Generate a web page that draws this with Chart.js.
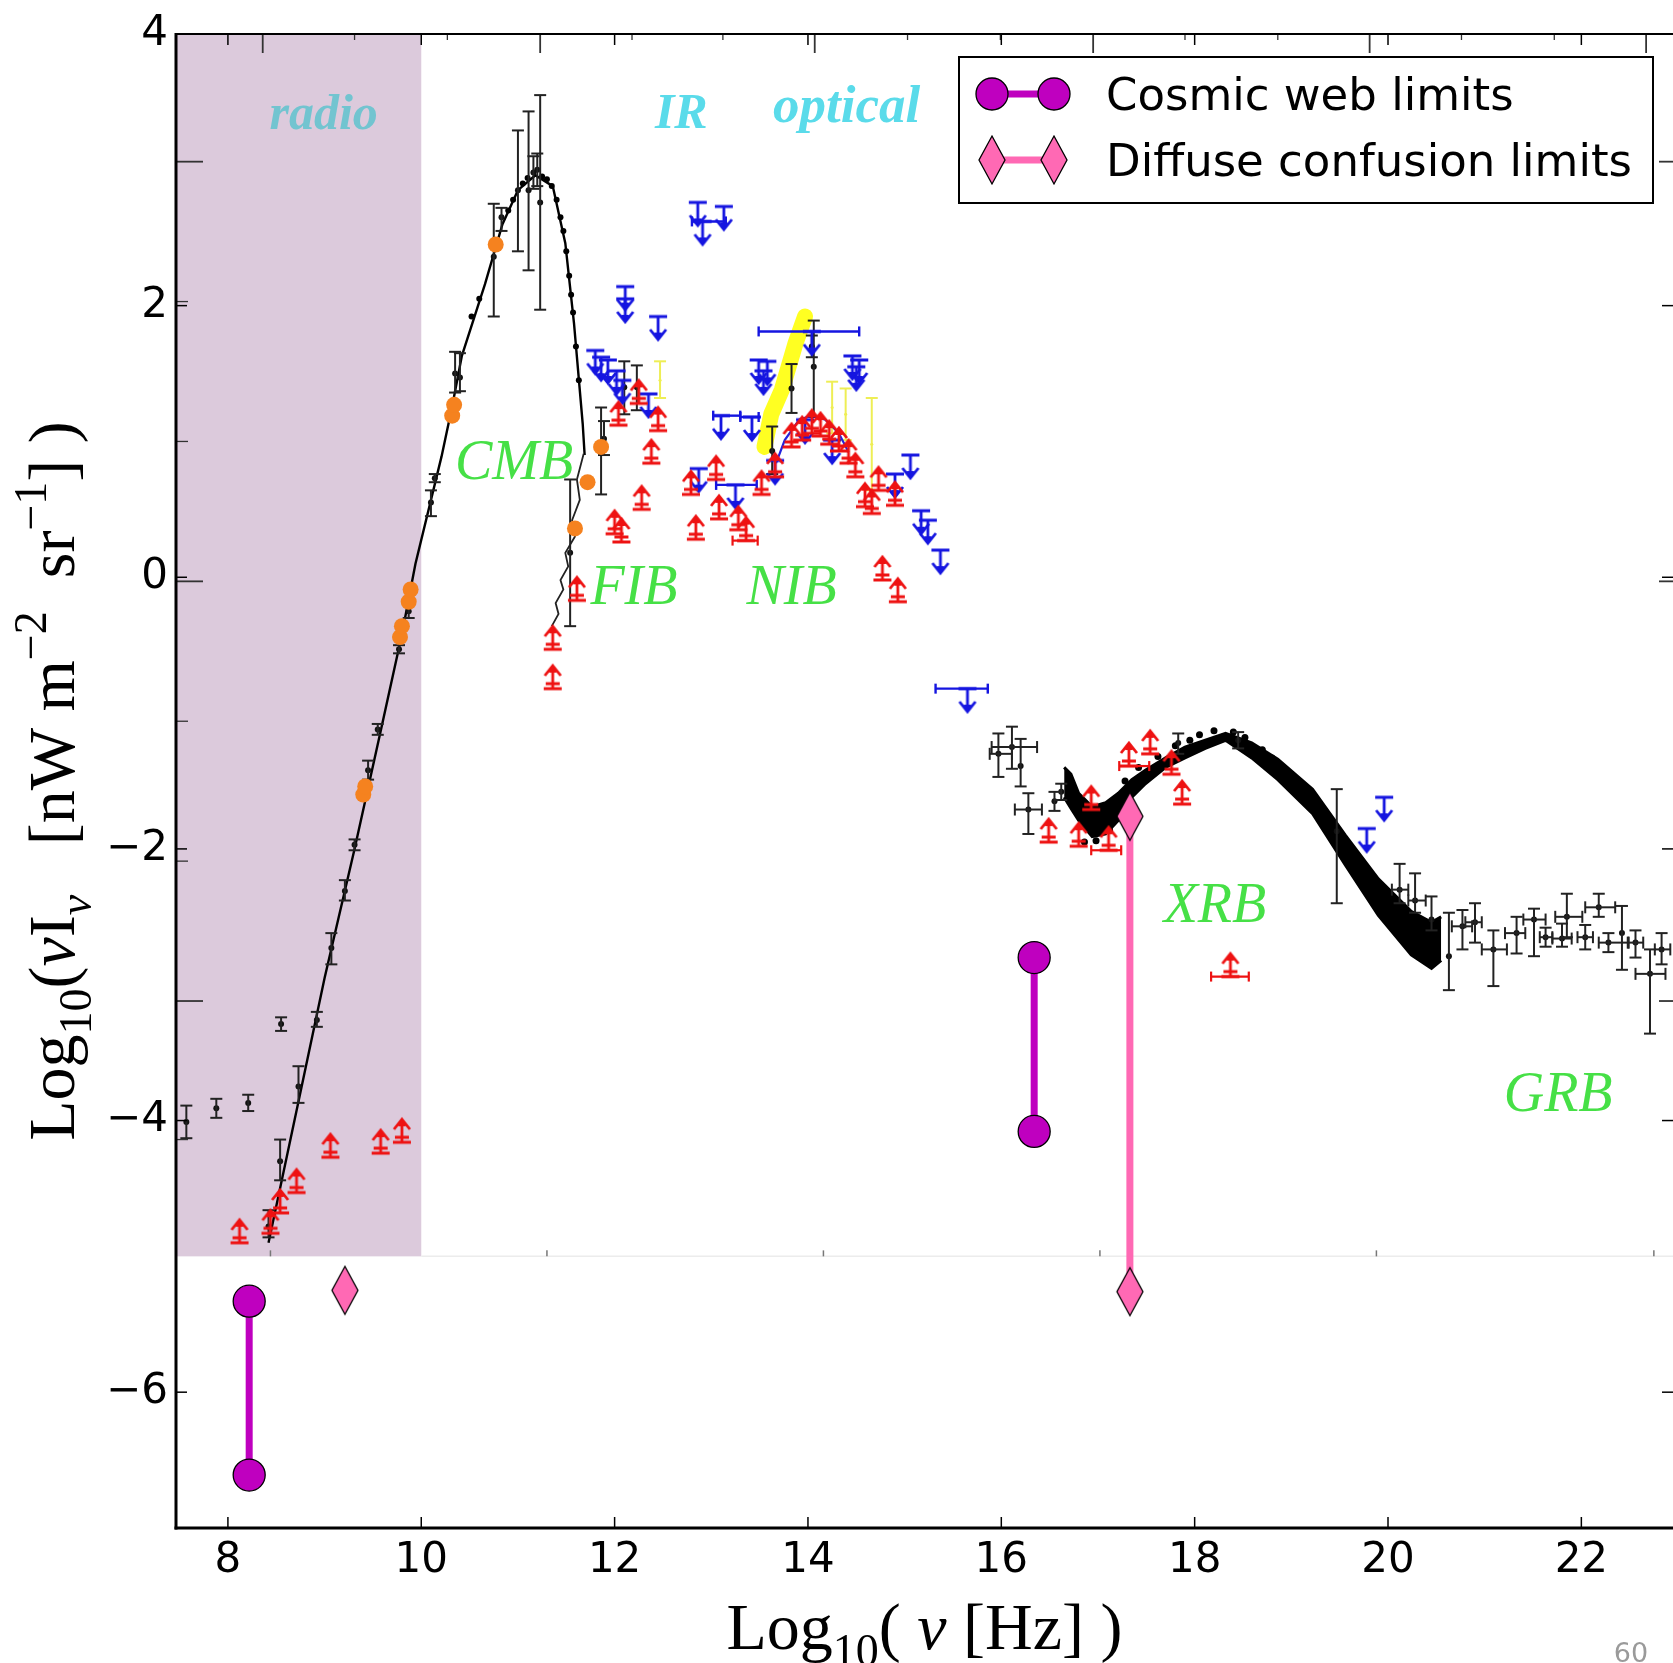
<!DOCTYPE html>
<html>
<head>
<meta charset="utf-8">
<title>Cosmic background spectrum with cosmic web and confusion limits</title>
<script src="https://cdn.jsdelivr.net/npm/chart.js@4.4.1/dist/chart.umd.min.js"></script>
<style>
  html, body { margin: 0; padding: 0; background: #ffffff; }
  canvas { display: block; }
</style>
</head>
<body>
<canvas id="spectrum" width="1673" height="1663"></canvas>
<script>
// ---- axis ranges and tick values (log10 frequency, log10 nu*I_nu) ----
const X_MIN = 7.463, X_MAX = 22.948, Y_MIN = -7, Y_MAX = 4;
const xTickValues = [8, 10, 12, 14, 16, 18, 20, 22];
const yTickValues = [-6, -4, -2, 0, 2, 4];

// ticks of the embedded spectrum panel
const innerTopMajor = [8.36, 11.23, 14.07, 16.95, 19.81, 22.67];
const innerTopMinor = [9.31, 10.27, 12.18, 13.12, 15.03, 15.99, 17.90, 18.86, 20.76, 21.72];
const innerSideMajor = [3.06, -0.03, -3.12];
const innerSideMinor = [2.03, 1.0, -1.06, -2.09, -4.14];
const innerBottomTicks = [8.44, 11.30, 14.16, 17.02, 19.88, 22.75];
const panelBottom = -5;

// radio band shading
const radioBandX = [X_MIN, 10];
const radioBandY = [-5, 4];

// ---- CMB ----
const cmbCurve = [
  {x:8.42,y:-4.90},{x:8.73,y:-3.86},{x:9.00,y:-2.95},{x:9.31,y:-2.00},{x:9.59,y:-1.10},
  {x:9.80,y:-0.42},{x:9.94,y:0.10},{x:10.21,y:0.89},{x:10.32,y:1.26},{x:10.42,y:1.63},
  {x:10.66,y:2.16},{x:10.84,y:2.60},{x:11.00,y:2.85},{x:11.18,y:2.96},{x:11.36,y:2.88},
  {x:11.49,y:2.46},{x:11.58,y:1.87},{x:11.67,y:1.13},{x:11.69,y:0.90}
];
const cmbDots = [
  {x:10.52,y:1.92},{x:10.60,y:2.05},{x:10.90,y:2.70},{x:10.95,y:2.78},{x:11.05,y:2.90},
  {x:11.10,y:2.94},{x:11.25,y:2.95},{x:11.30,y:2.93},{x:11.35,y:2.88},{x:11.40,y:2.78},
  {x:11.44,y:2.65},{x:11.47,y:2.55},{x:11.50,y:2.40},{x:11.53,y:2.22},{x:11.55,y:2.08},
  {x:11.57,y:1.95},{x:11.60,y:1.70},{x:11.63,y:1.45}
];
const firasJagged = [
  {x:11.68,y:0.91},{x:11.61,y:0.72},{x:11.64,y:0.57},{x:11.56,y:0.42},{x:11.59,y:0.30},
  {x:11.49,y:0.18},{x:11.52,y:0.08},{x:11.44,y:-0.02},{x:11.47,y:-0.09},{x:11.39,y:-0.19},
  {x:11.42,y:-0.27},{x:11.35,y:-0.36}
];
const cmbErr = [
  {x:7.57,y:-4.01,yl:-4.13,yh:-3.89},{x:7.88,y:-3.91,yl:-3.98,yh:-3.84},
  {x:8.21,y:-3.87,yl:-3.93,yh:-3.81},{x:8.55,y:-3.29,yl:-3.34,yh:-3.24},
  {x:8.42,y:-4.78,yl:-4.86,yh:-4.66},{x:8.54,y:-4.30,yl:-4.44,yh:-4.14},
  {x:8.73,y:-3.75,yl:-3.87,yh:-3.60},{x:8.92,y:-3.26,yl:-3.31,yh:-3.20},
  {x:9.07,y:-2.73,yl:-2.85,yh:-2.62},{x:9.21,y:-2.31,yl:-2.38,yh:-2.23},
  {x:9.31,y:-1.97,yl:-2.01,yh:-1.93},{x:9.45,y:-1.42,yl:-1.49,yh:-1.35},
  {x:9.55,y:-1.12,yl:-1.16,yh:-1.08},{x:9.77,y:-0.53,yl:-0.56,yh:-0.50},
  {x:9.87,y:-0.25,yl:-0.30,yh:-0.20},{x:10.10,y:0.55,yl:0.45,yh:0.64},
  {x:10.14,y:0.73,yl:0.70,yh:0.76},{x:10.35,y:1.50,yl:1.36,yh:1.66},
  {x:10.40,y:1.47,yl:1.37,yh:1.65},{x:10.75,y:2.36,yl:1.92,yh:2.75},
  {x:10.83,y:2.65,yl:2.55,yh:2.72},{x:11.00,y:2.85,yl:2.40,yh:3.29},
  {x:11.11,y:2.85,yl:2.26,yh:3.43},{x:11.23,y:2.76,yl:1.97,yh:3.55},
  {x:11.16,y:2.98,yl:2.86,yh:3.10},{x:11.20,y:3.00,yl:2.88,yh:3.12},
  {x:11.54,y:0.18,yl:-0.36,yh:0.72},{x:11.86,y:0.96,yl:0.61,yh:1.25},
  {x:11.89,y:1.02,yl:0.90,yh:1.15},{x:12.10,y:1.40,yl:1.20,yh:1.59},
  {x:12.23,y:1.40,yl:1.23,yh:1.56},{x:13.63,y:0.93,yl:0.76,yh:1.11},
  {x:13.83,y:1.39,yl:1.21,yh:1.57},{x:14.06,y:1.55,yl:1.18,yh:1.89},
  {x:14.04,y:1.70,yl:1.62,yh:1.78}
];
const orangePts = [
  {x:9.40,y:-1.60},{x:9.42,y:-1.54},{x:9.78,y:-0.44},{x:9.80,y:-0.36},{x:9.87,y:-0.18},
  {x:9.89,y:-0.09},{x:10.32,y:1.19},{x:10.34,y:1.27},{x:10.77,y:2.45},{x:11.59,y:0.36},
  {x:11.72,y:0.70},{x:11.86,y:0.96}
];

// ---- infrared / optical ----
const yellowBand = [
  {x:13.55,y:0.96},{x:13.62,y:1.20},{x:13.73,y:1.38},{x:13.80,y:1.55},{x:13.87,y:1.72},{x:13.97,y:1.92}
];
const yellowErr = [
  {x:12.47,y:1.45,yl:1.32,yh:1.59},{x:14.25,y:1.25,yl:1.06,yh:1.44},
  {x:14.39,y:1.20,yl:1.01,yh:1.39},{x:14.66,y:0.98,yl:0.64,yh:1.32}
];
const nibCurve = [
  {x:13.67,y:0.84},{x:13.76,y:1.01},{x:13.91,y:1.16},{x:14.04,y:1.19},
  {x:14.18,y:1.16},{x:14.32,y:1.06},{x:14.42,y:0.92}
];
const upperLims = [
  {x:12.86,y:2.76},{x:12.91,y:2.62,xl:12.80,xh:13.15},{x:13.13,y:2.73},
  {x:12.11,y:2.14},{x:12.11,y:2.05},{x:12.45,y:1.92},
  {x:11.80,y:1.67},{x:11.86,y:1.62},{x:11.93,y:1.60},{x:12.02,y:1.52},{x:12.08,y:1.45},{x:12.35,y:1.35},
  {x:13.10,y:1.19,xl:13.02,xh:13.30},{x:13.42,y:1.18,xl:13.30,xh:13.49},
  {x:13.49,y:1.60},{x:13.58,y:1.59},{x:13.54,y:1.52},
  {x:14.04,y:1.81,xl:13.49,xh:14.53},
  {x:14.46,y:1.63},{x:14.53,y:1.60},{x:14.50,y:1.55},
  {x:12.87,y:0.80},{x:13.25,y:0.68,xl:13.05,xh:13.47},{x:13.66,y:0.86},
  {x:13.97,y:1.16},{x:14.25,y:1.01},
  {x:15.06,y:0.90},{x:14.90,y:0.76},{x:15.17,y:0.49},{x:15.24,y:0.42},{x:15.37,y:0.20},
  {x:15.65,y:-0.82,xl:15.32,xh:15.86},
  {x:19.78,y:-1.85},{x:19.96,y:-1.62}
];
const lowerLims = [
  {x:8.12,y:-4.90},{x:8.44,y:-4.83},{x:8.54,y:-4.68},{x:8.71,y:-4.53},{x:9.06,y:-4.27},
  {x:9.58,y:-4.24},{x:9.80,y:-4.16},
  {x:11.36,y:-0.53},{x:11.36,y:-0.82},{x:11.61,y:-0.17},
  {x:12.00,y:0.32},{x:12.07,y:0.26},{x:12.28,y:0.50},{x:12.38,y:0.84},{x:12.45,y:1.08},
  {x:12.04,y:1.12},{x:12.25,y:1.28},
  {x:12.79,y:0.61},{x:13.05,y:0.72},{x:12.84,y:0.28},{x:13.08,y:0.43},{x:13.28,y:0.35},
  {x:13.36,y:0.27,xl:13.22,xh:13.48},{x:13.52,y:0.61},{x:13.66,y:0.74},
  {x:13.83,y:0.96},{x:13.94,y:1.01},{x:14.04,y:1.06},{x:14.13,y:1.04},{x:14.22,y:0.98},
  {x:14.32,y:0.93},{x:14.42,y:0.84},{x:14.49,y:0.74},{x:14.59,y:0.52},{x:14.66,y:0.47},
  {x:14.73,y:0.64},{x:14.90,y:0.53},{x:14.77,y:-0.02},{x:14.93,y:-0.18},
  {x:16.49,y:-1.95},{x:16.80,y:-1.98},{x:16.93,y:-1.71},{x:17.11,y:-2.01,xl:16.93,xh:17.24},
  {x:17.54,y:-1.30},{x:17.32,y:-1.39,xl:17.22,xh:17.53},{x:17.76,y:-1.45},{x:17.87,y:-1.67},
  {x:18.37,y:-2.94,xl:18.17,xh:18.56}
];

// ---- X-ray and gamma-ray ----
const xrbX      = [16.65, 16.72, 16.80, 16.94, 17.08, 17.21, 17.35, 17.49, 17.70, 17.90, 18.11, 18.32, 18.59, 18.86, 19.22, 19.56, 19.90, 20.24, 20.45, 20.55];
const xrbUpperY = [-1.40, -1.45, -1.59, -1.69, -1.66, -1.59, -1.49, -1.42, -1.33, -1.25, -1.20, -1.15, -1.22, -1.34, -1.56, -1.90, -2.22, -2.46, -2.54, -2.50];
const xrbLowerY = [-1.62, -1.70, -1.79, -1.91, -1.89, -1.79, -1.62, -1.52, -1.40, -1.33, -1.26, -1.20, -1.33, -1.49, -1.74, -2.12, -2.49, -2.78, -2.88, -2.82];
const xrayDots = [
  {x:16.86,y:-1.95},{x:16.98,y:-1.94},{x:17.12,y:-1.86},{x:17.28,y:-1.50},{x:17.42,y:-1.40},
  {x:17.62,y:-1.32},{x:17.80,y:-1.24},{x:17.95,y:-1.20},{x:18.05,y:-1.16},{x:18.20,y:-1.13},
  {x:18.40,y:-1.14},{x:18.52,y:-1.18},{x:18.70,y:-1.27},{x:18.80,y:-1.33},{x:18.95,y:-1.44},
  {x:19.05,y:-1.51},{x:19.15,y:-1.58},{x:19.35,y:-1.74},{x:19.45,y:-1.84},{x:19.60,y:-1.99},
  {x:19.75,y:-2.14},{x:19.95,y:-2.36},{x:20.10,y:-2.48},{x:20.30,y:-2.72},{x:20.40,y:-2.58}
];
const xrayErr = [
  {x:15.97,y:-1.30,xl:15.88,xh:16.11,yl:-1.47,yh:-1.15},
  {x:16.11,y:-1.25,xl:15.90,xh:16.37,yl:-1.41,yh:-1.10},
  {x:16.20,y:-1.39,yl:-1.54,yh:-1.19},
  {x:16.28,y:-1.71,xl:16.14,xh:16.42,yl:-1.89,yh:-1.59},
  {x:16.55,y:-1.65,yl:-1.72,yh:-1.58},
  {x:16.62,y:-1.58,yl:-1.64,yh:-1.52},
  {x:17.83,y:-1.22,yl:-1.30,yh:-1.15},
  {x:18.45,y:-1.20,yl:-1.26,yh:-1.14}
];
const grbErr = [
  {x:19.47,y:-1.87,yl:-2.40,yh:-1.56},
  {x:20.12,y:-2.30,xl:20.04,xh:20.21,yl:-2.40,yh:-2.11},
  {x:20.28,y:-2.38,xl:20.21,xh:20.39,yl:-2.47,yh:-2.18},
  {x:20.45,y:-2.52,yl:-2.60,yh:-2.35},
  {x:20.63,y:-2.79,yl:-3.04,yh:-2.47},
  {x:20.77,y:-2.57,xl:20.66,xh:20.87,yl:-2.74,yh:-2.45},
  {x:20.90,y:-2.54,xl:20.80,xh:20.97,yl:-2.69,yh:-2.40},
  {x:21.09,y:-2.74,xl:20.97,xh:21.23,yl:-3.01,yh:-2.60},
  {x:21.33,y:-2.62,xl:21.21,xh:21.42,yl:-2.77,yh:-2.50},
  {x:21.51,y:-2.52,xl:21.40,xh:21.63,yl:-2.79,yh:-2.44},
  {x:21.63,y:-2.65,xl:21.57,xh:21.70,yl:-2.72,yh:-2.58},
  {x:21.80,y:-2.66,xl:21.70,xh:21.90,yl:-2.72,yh:-2.55},
  {x:21.85,y:-2.50,xl:21.73,xh:22.01,yl:-2.65,yh:-2.33},
  {x:22.04,y:-2.65,xl:21.96,xh:22.12,yl:-2.74,yh:-2.56},
  {x:22.18,y:-2.43,xl:22.04,xh:22.35,yl:-2.50,yh:-2.33},
  {x:22.28,y:-2.69,xl:22.18,xh:22.49,yl:-2.76,yh:-2.62},
  {x:22.42,y:-2.62,yl:-2.89,yh:-2.42},
  {x:22.56,y:-2.69,xl:22.48,xh:22.64,yl:-2.80,yh:-2.60},
  {x:22.71,y:-2.92,xl:22.56,xh:22.87,yl:-3.36,yh:-2.74},
  {x:22.83,y:-2.74,xl:22.76,xh:22.92,yl:-2.85,yh:-2.62}
];

// ---- cosmic web and diffuse confusion limits ----
const cosmicWebA = [{x:8.22,y:-5.33},{x:8.22,y:-6.61}];
const cosmicWebB = [{x:16.34,y:-2.80},{x:16.34,y:-4.08}];
const confusionA = [{x:9.21,y:-5.25}];
const confusionB = [{x:17.33,y:-1.76},{x:17.33,y:-5.26}];

// ---- text ----
const bandLabels = [
  {text:'radio', x:8.99, y:3.30},
  {text:'IR', x:12.69, y:3.31},
  {text:'optical', x:14.40, y:3.35}
];
const componentLabels = [
  {text:'CMB', x:10.96, y:0.72},
  {text:'FIB', x:12.20, y:-0.20},
  {text:'NIB', x:13.83, y:-0.20},
  {text:'XRB', x:18.21, y:-2.54},
  {text:'GRB', x:21.76, y:-3.93}
];
const legendLabels = ['Cosmic web limits', 'Diffuse confusion limits'];
const xTitleParts = [
  {t:'Log'}, {t:'10', sub:true}, {t:'( '}, {t:'\u03BD', it:true}, {t:' [Hz] )'}
];
const yTitleParts = [
  {t:'Log'}, {t:'10', sub:true}, {t:'('}, {t:'\u03BD', it:true}, {t:'I'},
  {t:'\u03BD', it:true, sub:true}, {t:'   [nW m'}, {t:'\u22122', sup:true},
  {t:'  sr'}, {t:'\u22121', sup:true}, {t:'] )'}
];
const pageNumber = '60';

// ---- colours ----
const MAGENTA = '#bf00bf';
const HOTPINK = '#ff69b4';
const RED = '#ee1212';
const BLUE = '#1515e0';

// ---- marker glyphs ----
function limitGlyph(color, up, doubleBar) {
  const c = document.createElement('canvas');
  c.width = 24; c.height = 60;
  const g = c.getContext('2d');
  const cx = 12, cy = 30, s = up ? -1 : 1;
  g.strokeStyle = color;
  g.fillStyle = color;
  g.lineWidth = 2.8;
  g.lineJoin = 'miter';
  g.beginPath();
  g.moveTo(3, cy); g.lineTo(21, cy);
  if (doubleBar) { g.moveTo(5, cy + s * 5); g.lineTo(19, cy + s * 5); }
  g.moveTo(cx, cy); g.lineTo(cx, cy + s * 21);
  g.moveTo(4, cy + s * 13); g.lineTo(cx, cy + s * 23); g.lineTo(20, cy + s * 13);
  g.stroke();
  // solid tip of the arrow
  g.beginPath();
  g.moveTo(cx, cy + s * 24); g.lineTo(cx - 4, cy + s * 16); g.lineTo(cx + 4, cy + s * 16); g.closePath();
  g.fill();
  return c;
}
function diamondGlyph() {
  const c = document.createElement('canvas');
  c.width = 30; c.height = 52;
  const g = c.getContext('2d');
  g.beginPath();
  g.moveTo(15, 2); g.lineTo(28, 26); g.lineTo(15, 50); g.lineTo(2, 26); g.closePath();
  g.fillStyle = HOTPINK; g.fill();
  g.strokeStyle = '#000'; g.lineWidth = 1.3; g.stroke();
  return c;
}
const upGlyph = limitGlyph(RED, true, true);
const downGlyph = limitGlyph(BLUE, false, false);
const diamond = diamondGlyph();

// ---- plugins ----
function seg(ctx, x0, y0, x1, y1) { ctx.beginPath(); ctx.moveTo(x0, y0); ctx.lineTo(x1, y1); ctx.stroke(); }

const errorBarPlugin = {
  id: 'errorBars',
  afterDatasetDraw(chart, args) {
    const ds = chart.data.datasets[args.index];
    const st = ds.errorStyle;
    if (!st) return;
    const {ctx, chartArea: a} = chart;
    const xs = chart.scales.x, ys = chart.scales.y;
    ctx.save();
    ctx.beginPath(); ctx.rect(a.left, a.top, a.right - a.left, a.bottom - a.top); ctx.clip();
    ctx.strokeStyle = st.color; ctx.lineWidth = st.width;
    ds.data.forEach(p => {
      const px = xs.getPixelForValue(p.x), py = ys.getPixelForValue(p.y);
      if (p.yl !== undefined) {
        const y0 = ys.getPixelForValue(p.yl), y1 = ys.getPixelForValue(p.yh);
        seg(ctx, px, y0, px, y1);
        seg(ctx, px - st.cap, y0, px + st.cap, y0);
        seg(ctx, px - st.cap, y1, px + st.cap, y1);
      }
      if (p.xl !== undefined) {
        const x0 = xs.getPixelForValue(p.xl), x1 = xs.getPixelForValue(p.xh);
        seg(ctx, x0, py, x1, py);
        seg(ctx, x0, py - st.cap, x0, py + st.cap);
        seg(ctx, x1, py - st.cap, x1, py + st.cap);
      }
    });
    ctx.restore();
  }
};

function drawRich(ctx, parts, size, cx, baseY, angle) {
  const fontOf = p => (p.it ? 'italic ' : '') + Math.round((p.sub || p.sup) ? size * 0.7 : size) + 'px "Liberation Serif"';
  ctx.save();
  ctx.translate(cx, baseY);
  ctx.rotate(angle);
  ctx.fillStyle = '#000';
  ctx.textBaseline = 'alphabetic';
  ctx.textAlign = 'left';
  let total = 0;
  const widths = parts.map(p => { ctx.font = fontOf(p); const w = ctx.measureText(p.t).width; total += w; return w; });
  let px = -total / 2;
  parts.forEach((p, i) => {
    ctx.font = fontOf(p);
    const dy = p.sub ? size * 0.26 : (p.sup ? -size * 0.42 : 0);
    ctx.fillText(p.t, px, dy);
    px += widths[i];
  });
  ctx.restore();
}

const framePlugin = {
  id: 'frame',
  beforeDatasetsDraw(chart) {
    const {ctx, chartArea: a} = chart;
    const xs = chart.scales.x, ys = chart.scales.y;
    ctx.save();
    // radio band
    const bx0 = xs.getPixelForValue(radioBandX[0]), bx1 = xs.getPixelForValue(radioBandX[1]);
    const by0 = ys.getPixelForValue(radioBandY[1]), by1 = ys.getPixelForValue(radioBandY[0]);
    ctx.fillStyle = '#dccadc';
    ctx.fillRect(bx0, by0, bx1 - bx0, by1 - by0);
    // lower edge of the spectrum panel and its ticks
    const pb = ys.getPixelForValue(panelBottom);
    ctx.strokeStyle = '#ececec'; ctx.lineWidth = 1.5;
    seg(ctx, bx1, pb, a.right, pb);
    ctx.strokeStyle = '#777'; ctx.lineWidth = 1.5;
    innerBottomTicks.forEach(v => { const px = xs.getPixelForValue(v); seg(ctx, px, pb, px, pb - 6); });
    // region names
    ctx.textAlign = 'center'; ctx.textBaseline = 'alphabetic';
    bandLabels.forEach((l, i) => {
      ctx.font = 'italic bold ' + (i === 2 ? 53 : 50) + 'px "Liberation Serif"';
      ctx.fillStyle = i === 0 ? '#72c4d0' : '#5adbea';
      ctx.fillText(l.text, xs.getPixelForValue(l.x), ys.getPixelForValue(l.y));
    });
    ctx.font = 'italic 56px "Liberation Serif"';
    ctx.fillStyle = '#46e046';
    componentLabels.forEach(l => ctx.fillText(l.text, xs.getPixelForValue(l.x), ys.getPixelForValue(l.y)));
    ctx.restore();
  },
  afterDraw(chart) {
    const {ctx, chartArea: a} = chart;
    const xs = chart.scales.x, ys = chart.scales.y;
    ctx.save();
    // inner panel ticks
    ctx.strokeStyle = '#333'; ctx.lineWidth = 1.8;
    innerTopMajor.forEach(v => { const px = xs.getPixelForValue(v); seg(ctx, px, a.top, px, a.top + 19); });
    ctx.lineWidth = 1.3;
    innerTopMinor.forEach(v => { const px = xs.getPixelForValue(v); seg(ctx, px, a.top, px, a.top + 6); });
    ctx.lineWidth = 1.8;
    innerSideMajor.forEach(v => {
      const py = ys.getPixelForValue(v);
      seg(ctx, a.left, py, a.left + 27, py);
      seg(ctx, a.right, py, a.right - 14, py);
    });
    ctx.lineWidth = 1.3;
    innerSideMinor.forEach(v => { const py = ys.getPixelForValue(v); seg(ctx, a.left, py, a.left + 12, py); });
    // outer axis ticks (inward)
    ctx.strokeStyle = '#000'; ctx.lineWidth = 1.5;
    xTickValues.forEach(v => {
      const px = xs.getPixelForValue(v);
      seg(ctx, px, a.bottom, px, a.bottom - 11);
      seg(ctx, px, a.top, px, a.top + 11);
    });
    yTickValues.forEach(v => {
      const py = ys.getPixelForValue(v);
      seg(ctx, a.left, py, a.left + 11, py);
      seg(ctx, a.right, py, a.right - 11, py);
    });
    // spines
    ctx.lineWidth = 2;
    seg(ctx, a.left, a.top, a.right, a.top);
    ctx.lineWidth = 3;
    seg(ctx, a.left, a.top - 1, a.left, a.bottom + 1.5);
    seg(ctx, a.left - 1.5, a.bottom, a.right, a.bottom);
    ctx.restore();

    // axis titles
    drawRich(ctx, xTitleParts, 66, (a.left + a.right) / 2, 1649, 0);
    drawRich(ctx, yTitleParts, 66, 74, (a.top + a.bottom) / 2, -Math.PI / 2);

    // legend
    const L = {x: 959, y: 57, w: 694, h: 146, m1: 992, m2: 1054, tx: 1106, rows: [94, 160]};
    ctx.save();
    ctx.fillStyle = '#fff';
    ctx.fillRect(L.x, L.y, L.w, L.h);
    ctx.strokeStyle = '#000'; ctx.lineWidth = 2;
    ctx.strokeRect(L.x, L.y, L.w, L.h);
    // row 1: cosmic web limits
    let cy = L.rows[0];
    ctx.strokeStyle = MAGENTA; ctx.lineWidth = 7;
    seg(ctx, L.m1, cy, L.m2, cy);
    [L.m1, L.m2].forEach(mx => {
      ctx.beginPath(); ctx.arc(mx, cy, 16, 0, Math.PI * 2);
      ctx.fillStyle = MAGENTA; ctx.fill();
      ctx.strokeStyle = '#000'; ctx.lineWidth = 1.3; ctx.stroke();
    });
    // row 2: diffuse confusion limits
    cy = L.rows[1];
    ctx.strokeStyle = HOTPINK; ctx.lineWidth = 7;
    seg(ctx, L.m1, cy, L.m2, cy);
    [L.m1, L.m2].forEach(mx => ctx.drawImage(diamond, mx - diamond.width / 2, cy - diamond.height / 2));
    ctx.fillStyle = '#000';
    ctx.font = '45px "DejaVu Sans"';
    ctx.textAlign = 'left'; ctx.textBaseline = 'alphabetic';
    legendLabels.forEach((t, i) => ctx.fillText(t, L.tx, L.rows[i] + 16));
    ctx.restore();

    // page number
    ctx.save();
    ctx.fillStyle = '#9a9a9a';
    ctx.font = '27px "DejaVu Sans"';
    ctx.textAlign = 'center'; ctx.textBaseline = 'alphabetic';
    ctx.fillText(pageNumber, 1631, 1662);
    ctx.restore();
  }
};

// ---- datasets ----
const lineDs = (data, color, width, order, extra) => Object.assign({
  type: 'line', data, borderColor: color, borderWidth: width, pointRadius: 0,
  fill: false, tension: 0, order
}, extra || {});
const pointDs = (data, color, radius, order, extra) => Object.assign({
  type: 'scatter', data, backgroundColor: color, borderColor: color, borderWidth: 0,
  pointRadius: radius, order
}, extra || {});

const xrbUpper = xrbX.map((x, i) => ({x, y: xrbUpperY[i]}));
const xrbLower = xrbX.map((x, i) => ({x, y: xrbLowerY[i]}));

const datasets = [
  lineDs(cosmicWebA, MAGENTA, 7, 0, {pointRadius: 16, pointBackgroundColor: MAGENTA, pointBorderColor: '#000', pointBorderWidth: 1.3}),
  lineDs(cosmicWebB, MAGENTA, 7, 0, {pointRadius: 16, pointBackgroundColor: MAGENTA, pointBorderColor: '#000', pointBorderWidth: 1.3}),
  lineDs(confusionA, HOTPINK, 7, 0, {pointRadius: 14, pointStyle: diamond}),
  lineDs(confusionB, HOTPINK, 7, 0, {pointRadius: 14, pointStyle: diamond}),
  pointDs(lowerLims, RED, 10, 2, {pointStyle: upGlyph, errorStyle: {color: RED, width: 2.2, cap: 5}}),
  pointDs(upperLims, BLUE, 10, 2, {pointStyle: downGlyph, errorStyle: {color: BLUE, width: 2.4, cap: 5}}),
  lineDs(nibCurve, '#2222dd', 2.2, 3),
  pointDs(orangePts, '#f5821f', 8, 4),
  pointDs(cmbErr, '#111', 3, 5, {errorStyle: {color: '#222', width: 2, cap: 6}}),
  pointDs(xrayErr, '#111', 3, 5, {errorStyle: {color: '#222', width: 2, cap: 6}}),
  pointDs(grbErr, '#111', 3, 5, {errorStyle: {color: '#222', width: 2, cap: 6}}),
  pointDs(yellowErr, '#eeee44', 1.5, 6, {errorStyle: {color: '#eeee55', width: 2, cap: 6}}),
  lineDs(yellowBand, '#ffff22', 16, 7, {borderCapStyle: 'round', borderJoinStyle: 'round'}),
  lineDs(firasJagged, '#222', 1.8, 8),
  lineDs(cmbCurve, '#000', 2.4, 8),
  pointDs(cmbDots, '#000', 3, 8),
  pointDs(xrayDots, '#000', 3.5, 8),
  lineDs(xrbUpper, '#000', 3, 9),
  lineDs(xrbLower, '#000', 3, 9, {fill: '-1', backgroundColor: '#000'})
];

const fmtTick = v => (v < 0 ? '\u2212' + Math.abs(v) : String(v));

new Chart(document.getElementById('spectrum'), {
  type: 'scatter',
  data: { datasets },
  options: {
    responsive: false,
    devicePixelRatio: 1,
    animation: false,
    events: [],
    layout: { autoPadding: false, padding: { top: 34, left: 0, right: 0, bottom: 0 } },
    plugins: { legend: { display: false }, tooltip: { enabled: false } },
    scales: {
      x: {
        type: 'linear', min: X_MIN, max: X_MAX,
        afterBuildTicks: s => { s.ticks = xTickValues.map(v => ({value: v})); },
        afterFit: s => { s.height = 135; },
        grid: { display: false, drawTicks: false },
        border: { display: false },
        ticks: { font: { family: 'DejaVu Sans', size: 42 }, color: '#000', padding: 8,
                 maxRotation: 0, autoSkip: false, callback: fmtTick }
      },
      y: {
        type: 'linear', min: Y_MIN, max: Y_MAX,
        afterBuildTicks: s => { s.ticks = yTickValues.map(v => ({value: v})); },
        afterFit: s => { s.width = 176; },
        grid: { display: false, drawTicks: false },
        border: { display: false },
        ticks: { font: { family: 'DejaVu Sans', size: 42 }, color: '#000', padding: 8,
                 autoSkip: false, callback: fmtTick }
      }
    }
  },
  plugins: [errorBarPlugin, framePlugin]
});
</script>
</body>
</html>
